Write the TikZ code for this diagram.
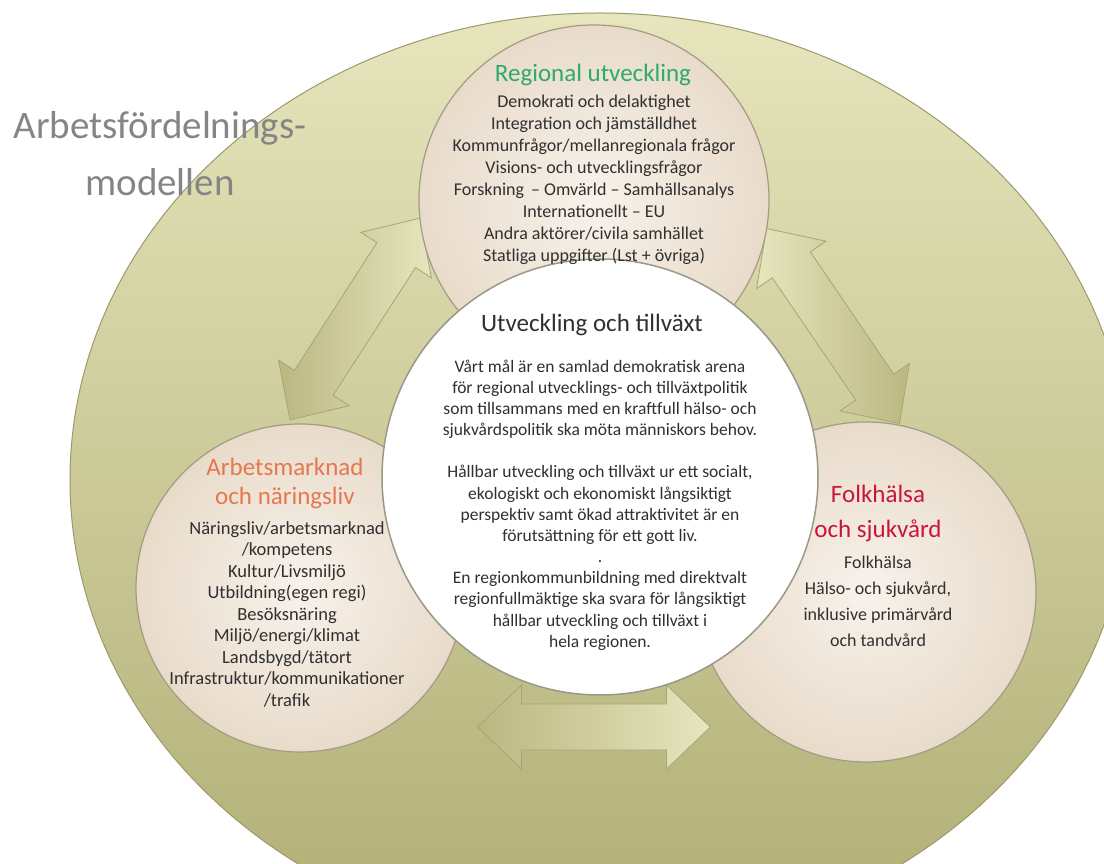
\documentclass[tikz,border=0pt]{standalone}
\usepackage{fontspec}
\setmainfont{Carlito}

\definecolor{ellLight}{HTML}{E6E5BC}
\definecolor{ellDark}{HTML}{B0AE74}
\definecolor{ellEdge}{HTML}{9C9A6A}
\definecolor{ringIn}{HTML}{F8F2EB}
\definecolor{ringOut}{HTML}{E8DBCA}
\definecolor{ringEdge}{HTML}{A39B85}
\definecolor{hubEdge}{HTML}{9A9888}
\definecolor{arrowDark}{HTML}{BAB781}
\definecolor{arrowLight}{HTML}{E6E5BE}
\definecolor{arrowEdge}{HTML}{A8A574}
\definecolor{bodyText}{HTML}{303030}
\definecolor{titleGrey}{HTML}{858585}
\definecolor{greenHead}{HTML}{2EAA6A}
\definecolor{orangeHead}{HTML}{E5784E}
\definecolor{redHead}{HTML}{C8163A}

\newcommand{\dblarrow}[5]{%
  \begin{scope}[shift={#1}, rotate=#2]
    \path[arrowbody, left color=#4, right color=#5]
      ({#3/2},0) -- ({#3/2-44},42) -- ({#3/2-44},23) -- ({-#3/2+44},23)
      -- ({-#3/2+44},42) -- ({-#3/2},0) -- ({-#3/2+44},-42) -- ({-#3/2+44},-23)
      -- ({#3/2-44},-23) -- ({#3/2-44},-42) -- cycle;
  \end{scope}}

\begin{document}
\begin{tikzpicture}[x=1pt, y=1pt,
    ring/.style={circle, draw=ringEdge, line width=1.2pt, inner color=ringIn, outer color=ringOut},
    hub/.style={circle, draw=hubEdge, line width=1.5pt, fill=white},
    head/.style={font=\fontsize{25}{29}\selectfont, align=center},
    body/.style={font=\fontsize{18}{22}\selectfont, align=center, text=bodyText},
    arrowbody/.style={draw=arrowEdge, line width=0.8pt}]
    \useasboundingbox (0,0) rectangle (1104,863);
    \clip (0,0) rectangle (1104,863);

    \path[draw=ellEdge, line width=1pt, top color=ellLight, bottom color=ellDark] (600,383) ellipse [x radius=530, y radius=467];

    \node [font=\fontsize{39}{57}\selectfont, align=center, text=titleGrey] (title) at (160,709) {Arbetsfördelnings-\\modellen};

    \dblarrow{(355,544)}{57.2}{240}{arrowDark}{arrowLight}
    \dblarrow{(833,537)}{124.3}{236}{arrowLight}{arrowDark}
    \dblarrow{(594,136)}{0}{233}{arrowDark}{arrowLight}

    \node [ring, minimum size=350pt] (regional) at (594,663) {};
    \node [ring, minimum size=328pt] (labour) at (300,275) {};
    \node [ring, minimum size=340pt] (health) at (866,271) {};
    \node [hub, minimum size=436pt] (growth) at (600,386) {};

    \node [head, text=greenHead] (regionalHead) at (593,788) {Regional utveckling};
    \node [body] (regionalText) at (594,683) {Demokrati och delaktighet\\ Integration och jämställdhet\\ Kommunfrågor/mellanregionala  frågor\\ Visions- och utvecklingsfrågor\\ Forskning \,-- Omvärld -- Samhällsanalys\\ Internationellt -- EU\\ Andra aktörer/civila samhället\\ Statliga uppgifter (Lst + övriga)};

    \node [head, text=bodyText] (growthHead) at (592,538) {Utveckling och tillväxt};
    \node [body, font=\fontsize{17.5}{21.15}\selectfont] (growthText) at (600,358) {Vårt mål är en samlad demokratisk arena\\ för regional utvecklings- och tillväxtpolitik\\ som tillsammans med en kraftfull hälso- och\\ sjukvårdspolitik ska möta människors behov.\\[21.15pt] Hållbar utveckling och tillväxt ur ett socialt,\\ ekologiskt och ekonomiskt långsiktigt\\ perspektiv samt ökad attraktivitet är en\\ förutsättning för ett gott liv.\\ .\\ En regionkommunbildning med direktvalt\\ regionfullmäktige ska svara för långsiktigt\\ hållbar utveckling och tillväxt i\\ hela regionen.};

    \node [head, text=orangeHead] (labourHead) at (285,380) {Arbetsmarknad\\ och näringsliv};
    \node [body, font=\fontsize{18.5}{21.5}\selectfont] (labourText) at (287,249) {Näringsliv/arbetsmarknad\\ /kompetens\\ Kultur/Livsmiljö\\ Utbildning(egen regi)\\ Besöksnäring\\ Miljö/energi/klimat\\ Landsbygd/tätort\\ Infrastruktur/kommunikationer\\ /trafik};

    \node [head, font=\fontsize{25}{35}\selectfont, text=redHead] (healthHead) at (878,350) {Folkhälsa\\ och sjukvård};
    \node [body, font=\fontsize{18}{26}\selectfont] (healthText) at (878,262) {Folkhälsa\\ Hälso- och sjukvård,\\ inklusive primärvård\\ och tandvård};
\end{tikzpicture}
\end{document}
